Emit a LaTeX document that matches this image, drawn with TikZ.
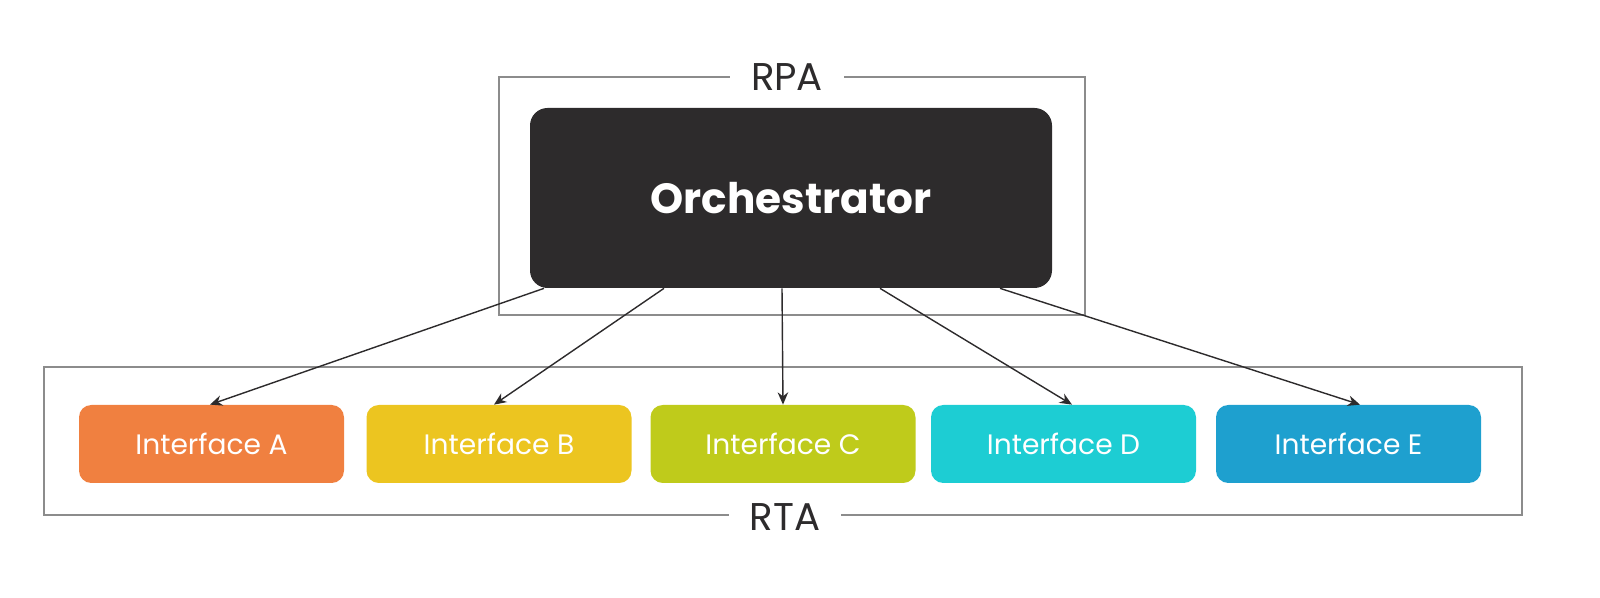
\documentclass[tikz,border=0pt]{standalone}
\usepackage{fontspec}
\setmainfont{Poppins}
\usetikzlibrary{positioning,arrows.meta}
\definecolor{darkbox}{HTML}{2D2B2C}
\definecolor{frameline}{HTML}{8C8C8C}
\definecolor{ifA}{HTML}{F08040}
\definecolor{ifB}{HTML}{ECC520}
\definecolor{ifC}{HTML}{BFCB1B}
\definecolor{ifD}{HTML}{1DCDD3}
\definecolor{ifE}{HTML}{1EA0CF}
\tikzset{
    frame/.style={draw=frameline,line width=0.8pt},
    framelabel/.style={fill=white,inner xsep=12pt,inner ysep=2pt,text=darkbox,font=\fontsize{22}{24}\selectfont},
    ifbox/.style={rounded corners=7pt,minimum width=5.3cm,minimum height=1.56cm,text=white,font=\fontsize{16}{18}\selectfont},
    link/.style={draw=darkbox,line width=0.8pt,-{Stealth[length=7pt,width=6pt]}}
}
\begin{document}
\begin{tikzpicture}
\useasboundingbox (0,0) rectangle (32,11.96);
% frames
\draw[frame] (9.98,5.66) rectangle (21.7,10.42);
\node[framelabel] (rpa) at (15.74,10.42) {RPA};
\draw[frame] (0.88,1.66) rectangle (30.44,4.62);
\node[framelabel] (rta) at (15.70,1.62) {RTA};
% orchestrator
\node[fill=darkbox,rounded corners=10pt,minimum width=10.44cm,minimum height=3.6cm,
      text=white,font=\bfseries\fontsize{24}{26}\selectfont] (orch) at (15.82,8.0) {Orchestrator};
% interfaces
\node[ifbox,fill=ifA] (ia) at (4.23,3.08) {Interface A};
\node[ifbox,fill=ifB] (ib) at (9.98,3.08) {Interface B};
\node[ifbox,fill=ifC] (ic) at (15.66,3.08) {Interface C};
\node[ifbox,fill=ifD] (id) at (21.27,3.08) {Interface D};
\node[ifbox,fill=ifE] (ie) at (26.97,3.08) {Interface E};
% connectors
\draw[link] ([xshift=-4.94cm]orch.south) -- ([xshift=-0.03cm]ia.north);
\draw[link] ([xshift=-2.54cm]orch.south) -- ([xshift=-0.1cm]ib.north);
\draw[link] ([xshift=-0.18cm]orch.south) -- (ic.north);
\draw[link] ([xshift=1.78cm]orch.south) -- ([xshift=0.17cm]id.north);
\draw[link] ([xshift=4.18cm]orch.south) -- ([xshift=0.23cm]ie.north);
\end{tikzpicture}
\end{document}
